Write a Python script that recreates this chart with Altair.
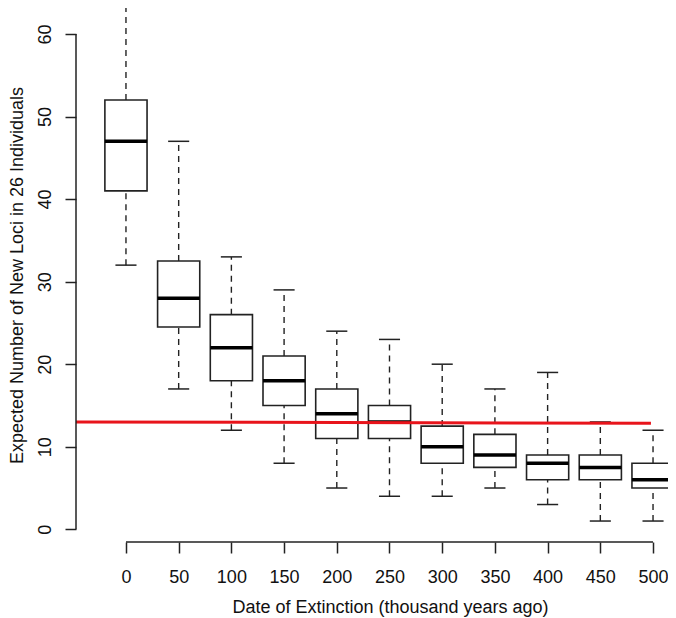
import altair as alt
import pandas as pd

# ---- data ----
dates = [0, 50, 100, 150, 200, 250, 300, 350, 400, 450, 500]
upper = [64, 47, 33, 29, 24, 23, 20, 17, 19, 13, 12]
q3 = [52, 32.5, 26, 21, 17, 15, 12.5, 11.5, 9, 9, 8]
median = [47, 28, 22, 18, 14, 13, 10, 9, 8, 7.5, 6]
q1 = [41, 24.5, 18, 15, 11, 11, 8, 7.5, 6, 6, 5]
lower = [32, 17, 12, 8, 5, 4, 4, 5, 3, 1, 1]

y_ticks = [0, 10, 20, 30, 40, 50, 60]
ref_x = [-47.4, 498]
ref_y = [13.0, 12.85]

df = pd.DataFrame(dict(date=dates, upper=upper, q3=q3, median=median, q1=q1, lower=lower))
ref = pd.DataFrame(dict(x=ref_x, y=ref_y))
xline = pd.DataFrame(dict(x0=[min(dates)], x1=[max(dates)]))
yline = pd.DataFrame(dict(y0=[min(y_ticks)], y1=[max(y_ticks)]))

FONT = "Liberation Sans"
INK = "#222222"
W, H = 592, 534

xs = alt.Scale(domain=[-47.4, 514.2], nice=False, zero=False)
ys = alt.Scale(domain=[-1.54, 63.15], nice=False, zero=False)

x_axis = alt.Axis(
    values=dates, domain=False, grid=False, tickSize=11, tickWidth=1.5, tickColor=INK,
    labelFont=FONT, labelFontSize=18, labelColor="#111111", labelPadding=29,
    labelBaseline="alphabetic", labelAngle=0,
    title="Date of Extinction (thousand years ago)", titleFont=FONT, titleFontSize=18,
    titleFontWeight="normal", titleColor="#111111", titleX=314, titleY=70,
    titleBaseline="alphabetic", titleAlign="center",
)
y_axis = alt.Axis(
    values=y_ticks, domain=False, grid=False, tickSize=11, tickWidth=1.5, tickColor=INK,
    labelFont=FONT, labelFontSize=18, labelColor="#111111", labelPadding=15,
    labelAngle=270, labelAlign="center", labelBaseline="alphabetic",
    title="Expected Number of New Loci in 26 Individuals", titleFont=FONT, titleFontSize=18,
    titleFontWeight="normal", titleColor="#111111", titleAngle=270, titleX=-54,
    titleBaseline="alphabetic", titleAlign="center",
)


def X(field):
    return alt.X(field, type="quantitative", scale=xs, axis=x_axis)


def Y(field):
    return alt.Y(field, type="quantitative", scale=ys, axis=y_axis)


base = alt.Chart(df).transform_calculate(
    bl="datum.date - 20", br="datum.date + 20",
    cl="datum.date - 10", cr="datum.date + 10",
)

whisk_up = base.mark_rule(color=INK, strokeWidth=1.4, strokeDash=[6, 5]).encode(
    x=X("date"), y=Y("q3"), y2="upper:Q")
whisk_lo = base.mark_rule(color=INK, strokeWidth=1.4, strokeDash=[6, 5]).encode(
    x=X("date"), y=Y("lower"), y2="q1:Q")
cap_up = base.mark_rule(color=INK, strokeWidth=1.5).encode(
    x=X("cl"), x2="cr:Q", y=Y("upper"))
cap_lo = base.mark_rule(color=INK, strokeWidth=1.5).encode(
    x=X("cl"), x2="cr:Q", y=Y("lower"))
box = base.mark_rect(fill="white", stroke=INK, strokeWidth=1.6).encode(
    x=X("bl"), x2="br:Q", y=Y("q1"), y2="q3:Q")
med = base.mark_rule(color="black", strokeWidth=3.5).encode(
    x=X("bl"), x2="br:Q", y=Y("median"))

red = alt.Chart(ref).mark_line(color="#e8141b", strokeWidth=3).encode(
    x=X("x"), y=Y("y"))

x_dom = alt.Chart(xline).mark_rule(color=INK, strokeWidth=1.5).encode(
    x=X("x0"), x2="x1:Q", y=alt.value(H))
y_dom = alt.Chart(yline).mark_rule(color=INK, strokeWidth=1.5).encode(
    x=alt.value(0), y=Y("y0"), y2="y1:Q")

chart = alt.layer(
    whisk_up, whisk_lo, cap_up, cap_lo, box, med, red, x_dom, y_dom
).properties(
    width=W, height=H,
    autosize=alt.AutoSizeParams(type="none"),
    padding={"left": 68, "top": 0, "right": 0, "bottom": 76},
    background="white",
).configure_view(stroke=None)

chart.save("out.html", embed_options={"renderer": "svg", "actions": False})
